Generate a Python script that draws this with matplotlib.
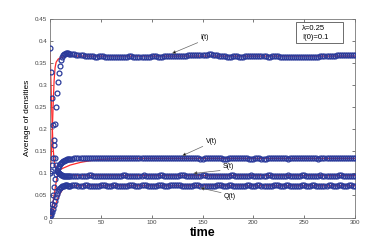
import numpy as np
import matplotlib.pyplot as plt
from matplotlib.patches import Rectangle

# model curves (red lines)
t_model = [0, 1, 2, 3, 4, 5, 6, 8, 10, 12, 15, 20, 25, 30, 40, 50, 70, 100, 150, 200, 250, 300]
I_model = [0.100, 0.130, 0.180, 0.250, 0.310, 0.340, 0.352, 0.359, 0.362, 0.364, 0.365, 0.366, 0.366, 0.366,
           0.366, 0.366, 0.366, 0.366, 0.366, 0.366, 0.366, 0.366]
S_model = [0.380, 0.300, 0.220, 0.160, 0.130, 0.118, 0.112, 0.105, 0.100, 0.098, 0.097, 0.096, 0.095, 0.095,
           0.095, 0.095, 0.095, 0.095, 0.095, 0.095, 0.095, 0.095]
V_model = [0.000, 0.010, 0.020, 0.035, 0.050, 0.065, 0.080, 0.104, 0.108, 0.111, 0.114, 0.119, 0.122, 0.125,
           0.129, 0.132, 0.134, 0.134, 0.134, 0.134, 0.134, 0.134]
Q_model = [0.000, 0.004, 0.008, 0.014, 0.020, 0.027, 0.033, 0.045, 0.055, 0.062, 0.068, 0.071, 0.072, 0.072,
           0.072, 0.072, 0.072, 0.072, 0.072, 0.072, 0.072, 0.072]

# simulation (blue circles): every step up to t=20, then every 2
t_sim = list(range(0, 21)) + list(range(22, 301, 2))

I_sim = [0.100, 0.105, 0.120, 0.135, 0.175, 0.213, 0.251, 0.283, 0.308, 0.328, 0.344,
         0.356, 0.365, 0.368, 0.370, 0.371, 0.372, 0.372, 0.372, 0.371, 0.371,
         0.370, 0.370, 0.369, 0.369, 0.368, 0.368, 0.367, 0.367, 0.366, 0.366,
         0.366, 0.365, 0.365, 0.366, 0.366, 0.366, 0.365, 0.365, 0.365, 0.364,
         0.364, 0.364, 0.365, 0.364, 0.364, 0.364, 0.365, 0.365, 0.366, 0.366,
         0.365, 0.365, 0.365, 0.364, 0.364, 0.364, 0.365, 0.365, 0.365, 0.366,
         0.366, 0.366, 0.365, 0.365, 0.365, 0.366, 0.366, 0.366, 0.366, 0.367,
         0.367, 0.366, 0.366, 0.366, 0.367, 0.367, 0.367, 0.368, 0.368, 0.368,
         0.369, 0.369, 0.369, 0.368, 0.368, 0.368, 0.369, 0.370, 0.370, 0.369,
         0.368, 0.368, 0.367, 0.366, 0.366, 0.366, 0.365, 0.365, 0.365, 0.366,
         0.366, 0.366, 0.365, 0.365, 0.365, 0.366, 0.366, 0.366, 0.366, 0.366,
         0.367, 0.367, 0.367, 0.366, 0.366, 0.366, 0.365, 0.365, 0.366, 0.366,
         0.366, 0.366, 0.365, 0.365, 0.365, 0.364, 0.364, 0.364, 0.363, 0.363,
         0.363, 0.364, 0.364, 0.363, 0.363, 0.363, 0.364, 0.364, 0.364, 0.365,
         0.365, 0.365, 0.366, 0.366, 0.366, 0.366, 0.366, 0.367, 0.367, 0.367,
         0.368, 0.368, 0.368, 0.369, 0.369, 0.369, 0.368, 0.368, 0.368, 0.369]
V_sim = [0.008, 0.015, 0.030, 0.050, 0.070, 0.087, 0.098, 0.106, 0.112, 0.117, 0.121,
         0.124, 0.126, 0.128, 0.129, 0.130, 0.131, 0.132, 0.132, 0.133, 0.133,
         0.133, 0.134, 0.134, 0.134, 0.134, 0.135, 0.135, 0.134, 0.134, 0.134,
         0.135, 0.135, 0.135, 0.134, 0.134, 0.134, 0.135, 0.135, 0.136, 0.136,
         0.136, 0.135, 0.135, 0.134, 0.134, 0.134, 0.135, 0.135, 0.135, 0.134,
         0.134, 0.134, 0.134, 0.135, 0.135, 0.135, 0.134, 0.134, 0.134, 0.135,
         0.135, 0.135, 0.134, 0.134, 0.134, 0.135, 0.135, 0.135, 0.136, 0.136,
         0.135, 0.135, 0.135, 0.134, 0.134, 0.134, 0.135, 0.135, 0.135, 0.134,
         0.134, 0.134, 0.134, 0.133, 0.133, 0.134, 0.134, 0.134, 0.135, 0.135,
         0.135, 0.134, 0.134, 0.134, 0.133, 0.133, 0.133, 0.134, 0.134, 0.134,
         0.135, 0.135, 0.135, 0.134, 0.134, 0.134, 0.134, 0.133, 0.133, 0.133,
         0.134, 0.134, 0.134, 0.133, 0.133, 0.133, 0.134, 0.134, 0.134, 0.135,
         0.135, 0.135, 0.134, 0.134, 0.134, 0.134, 0.133, 0.134, 0.134, 0.134,
         0.135, 0.135, 0.134, 0.134, 0.134, 0.135, 0.135, 0.135, 0.134, 0.134,
         0.134, 0.133, 0.134, 0.134, 0.134, 0.135, 0.135, 0.134, 0.134, 0.134,
         0.135, 0.135, 0.135, 0.134, 0.134, 0.134, 0.135, 0.135, 0.135, 0.134]
S_sim = [0.384, 0.330, 0.270, 0.210, 0.165, 0.135, 0.118, 0.108, 0.103, 0.100, 0.098,
         0.097, 0.096, 0.095, 0.095, 0.094, 0.094, 0.094, 0.095, 0.095, 0.095,
         0.095, 0.095, 0.094, 0.094, 0.094, 0.095, 0.095, 0.095, 0.096, 0.096,
         0.095, 0.095, 0.095, 0.094, 0.094, 0.094, 0.095, 0.095, 0.095, 0.095,
         0.094, 0.094, 0.095, 0.095, 0.095, 0.096, 0.096, 0.095, 0.095, 0.094,
         0.094, 0.095, 0.095, 0.095, 0.095, 0.096, 0.095, 0.095, 0.094, 0.094,
         0.094, 0.095, 0.095, 0.096, 0.096, 0.095, 0.095, 0.095, 0.094, 0.094,
         0.095, 0.095, 0.095, 0.096, 0.096, 0.096, 0.095, 0.095, 0.094, 0.094,
         0.094, 0.095, 0.095, 0.095, 0.096, 0.096, 0.095, 0.095, 0.095, 0.094,
         0.094, 0.095, 0.095, 0.095, 0.094, 0.094, 0.095, 0.095, 0.096, 0.096,
         0.095, 0.095, 0.095, 0.094, 0.094, 0.095, 0.095, 0.095, 0.096, 0.095,
         0.095, 0.094, 0.094, 0.094, 0.095, 0.095, 0.096, 0.096, 0.095, 0.095,
         0.095, 0.094, 0.094, 0.095, 0.095, 0.095, 0.096, 0.095, 0.095, 0.094,
         0.094, 0.095, 0.095, 0.096, 0.096, 0.095, 0.095, 0.094, 0.094, 0.095,
         0.095, 0.095, 0.096, 0.095, 0.095, 0.095, 0.094, 0.094, 0.095, 0.095,
         0.095, 0.096, 0.096, 0.095, 0.095, 0.094, 0.094, 0.095, 0.095, 0.095]
Q_sim = [0.003, 0.006, 0.012, 0.020, 0.028, 0.037, 0.046, 0.054, 0.060, 0.065, 0.068,
         0.070, 0.071, 0.072, 0.072, 0.073, 0.073, 0.073, 0.072, 0.072, 0.072,
         0.073, 0.073, 0.073, 0.072, 0.072, 0.072, 0.073, 0.073, 0.072, 0.072,
         0.072, 0.071, 0.072, 0.072, 0.073, 0.073, 0.073, 0.072, 0.072, 0.072,
         0.073, 0.073, 0.072, 0.072, 0.071, 0.071, 0.072, 0.072, 0.073, 0.073,
         0.073, 0.072, 0.072, 0.072, 0.073, 0.073, 0.073, 0.072, 0.072, 0.071,
         0.072, 0.072, 0.073, 0.073, 0.073, 0.072, 0.072, 0.072, 0.073, 0.073,
         0.074, 0.073, 0.073, 0.073, 0.072, 0.072, 0.072, 0.071, 0.072, 0.072,
         0.073, 0.073, 0.073, 0.072, 0.072, 0.072, 0.071, 0.071, 0.072, 0.072,
         0.072, 0.073, 0.073, 0.073, 0.072, 0.072, 0.072, 0.073, 0.073, 0.072,
         0.072, 0.072, 0.071, 0.071, 0.072, 0.072, 0.073, 0.073, 0.072, 0.072,
         0.072, 0.073, 0.073, 0.072, 0.072, 0.072, 0.071, 0.072, 0.072, 0.073,
         0.073, 0.073, 0.072, 0.072, 0.072, 0.073, 0.073, 0.072, 0.072, 0.071,
         0.071, 0.072, 0.072, 0.073, 0.073, 0.072, 0.072, 0.072, 0.073, 0.073,
         0.072, 0.072, 0.072, 0.071, 0.072, 0.072, 0.073, 0.073, 0.072, 0.072,
         0.072, 0.073, 0.073, 0.072, 0.072, 0.072, 0.073, 0.073, 0.072, 0.072]

x_ticks = [0, 50, 100, 150, 200, 250, 300]
y_ticks = [0, 0.05, 0.1, 0.15, 0.2, 0.25, 0.3, 0.35, 0.4, 0.45]
y_ticklabels = ['0', '0.05', '0.1', '0.15', '0.2', '0.25', '0.3', '0.35', '0.4', '0.45']

plt.rcParams['font.family'] = 'Liberation Sans'

fig = plt.figure(figsize=(3.92, 2.45), dpi=100)
ax = fig.add_axes([0.1276, 0.1122, 0.778, 0.8102])

# red model lines under the circles
for m in [I_model, S_model, V_model, Q_model]:
    ax.plot(t_model, m, color='#ff2a2a', lw=0.9, zorder=2)

for s in [I_sim, V_sim, S_sim, Q_sim]:
    ax.plot(t_sim, s, 'o', mfc='none', mec='#2a3a9a', ms=3.5, mew=0.9, zorder=3)

ax.set_xlim(0, 300)
ax.set_ylim(0, 0.45)
ax.set_xticks(x_ticks)
ax.set_yticks(y_ticks)
ax.set_yticklabels(y_ticklabels)
ax.tick_params(direction='in', length=2.2, width=0.5, labelsize=4.5, colors='#444444',
               top=True, right=True, pad=2)
for sp in ax.spines.values():
    sp.set_color('#777777')
    sp.set_linewidth(0.6)

ax.set_xlabel('time', fontsize=9, fontweight='bold', labelpad=1)
ax.set_ylabel('Average of densities', fontsize=6, labelpad=3)

# curve labels with arrows
arrow = dict(arrowstyle='-|>', fc='black', ec='#666666', lw=0.5, mutation_scale=5,
             shrinkA=0, shrinkB=0, relpos=(0, 0))
ax.annotate('I(t)', xy=(120, 0.372), xytext=(148, 0.407), fontsize=5, va='center',
            arrowprops=arrow)
ax.annotate('V(t)', xy=(130, 0.140), xytext=(153, 0.172), fontsize=5, va='center',
            arrowprops=arrow)
ax.annotate('S(t)', xy=(141, 0.100), xytext=(170, 0.115), fontsize=5, va='center',
            arrowprops=arrow)
ax.annotate('Q(t)', xy=(148, 0.067), xytext=(171, 0.047), fontsize=5, va='center',
            arrowprops=dict(arrow, relpos=(0, 1)))

# parameter box
ax.add_patch(Rectangle((0.807, 0.879), 0.154, 0.106, transform=ax.transAxes,
                       fill=False, ec='#555555', lw=0.6, zorder=5))
ax.text(0.826, 0.950, 'λ=0.25', transform=ax.transAxes, fontsize=5.5, va='center')
ax.text(0.826, 0.909, 'I(0)=0.1', transform=ax.transAxes, fontsize=5.5, va='center')

fig.savefig('out.png', dpi=100)
